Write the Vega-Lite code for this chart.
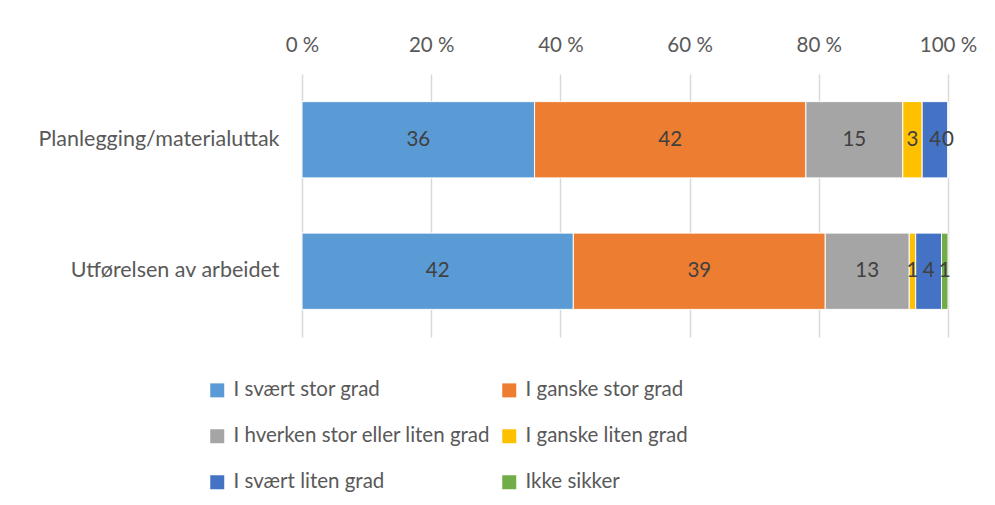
{
  "$schema": "https://vega.github.io/schema/vega-lite/v6.json",
  "width": 646,
  "height": 263,
  "autosize": {"type": "none"},
  "padding": {"left": 302, "top": 74, "right": 47, "bottom": 168},
  "background": "white",
  "config": {
    "view": {"stroke": null},
    "font": "Lato",
    "text": {"font": "Lato"}
  },
  "data": {
    "values": [
      {"cat": "Planlegging/materialuttak", "resp": "I svært stor grad", "o": 0, "v": 36},
      {"cat": "Planlegging/materialuttak", "resp": "I ganske stor grad", "o": 1, "v": 42},
      {"cat": "Planlegging/materialuttak", "resp": "I hverken stor eller liten grad", "o": 2, "v": 15},
      {"cat": "Planlegging/materialuttak", "resp": "I ganske liten grad", "o": 3, "v": 3},
      {"cat": "Planlegging/materialuttak", "resp": "I svært liten grad", "o": 4, "v": 4},
      {"cat": "Planlegging/materialuttak", "resp": "Ikke sikker", "o": 5, "v": 0},
      {"cat": "Utførelsen av arbeidet", "resp": "I svært stor grad", "o": 0, "v": 42},
      {"cat": "Utførelsen av arbeidet", "resp": "I ganske stor grad", "o": 1, "v": 39},
      {"cat": "Utførelsen av arbeidet", "resp": "I hverken stor eller liten grad", "o": 2, "v": 13},
      {"cat": "Utførelsen av arbeidet", "resp": "I ganske liten grad", "o": 3, "v": 1},
      {"cat": "Utførelsen av arbeidet", "resp": "I svært liten grad", "o": 4, "v": 4},
      {"cat": "Utførelsen av arbeidet", "resp": "Ikke sikker", "o": 5, "v": 1}
    ]
  },
  "encoding": {
    "y": {
      "field": "cat",
      "type": "nominal",
      "sort": ["Planlegging/materialuttak", "Utførelsen av arbeidet"],
      "scale": {"paddingInner": 0.42, "paddingOuter": 0.21},
      "axis": {
        "title": null,
        "domain": false,
        "ticks": false,
        "labelPadding": 23,
        "labelFontSize": 21.5,
        "labelColor": "#595959",
        "labelFont": "Lato",
        "labelLimit": 400
      }
    },
    "x": {
      "field": "v",
      "type": "quantitative",
      "stack": "normalize",
      "scale": {"domain": [0, 1]},
      "axis": {
        "orient": "top",
        "title": null,
        "labelExpr": "format(datum.value*100, 'd') + ' %'",
        "values": [0, 0.2, 0.4, 0.6, 0.8, 1],
        "domain": false,
        "ticks": false,
        "labelFlush": false,
        "labelPadding": 19,
        "labelFontSize": 20.5,
        "labelColor": "#595959",
        "labelFont": "Lato",
        "grid": true,
        "gridColor": "#D9D9D9",
        "gridWidth": 1.5
      }
    },
    "order": {"field": "o", "type": "quantitative"}
  },
  "layer": [
    {
      "mark": {"type": "bar", "stroke": "white", "strokeWidth": 1},
      "encoding": {
        "color": {
          "field": "resp",
          "type": "nominal",
          "sort": ["I svært stor grad", "I ganske stor grad", "I hverken stor eller liten grad", "I ganske liten grad", "I svært liten grad", "Ikke sikker"],
          "scale": {
            "domain": ["I svært stor grad", "I ganske stor grad", "I hverken stor eller liten grad", "I ganske liten grad", "I svært liten grad", "Ikke sikker"],
            "range": ["#5B9BD5", "#ED7D31", "#A5A5A5", "#FFC000", "#4472C4", "#70AD47"]
          },
          "legend": {
            "orient": "none",
            "direction": "horizontal",
            "legendX": -95,
            "legendY": 306,
            "columns": 2,
            "title": null,
            "symbolType": "square",
            "symbolSize": 196,
            "symbolStrokeWidth": 0,
            "labelFontSize": 20.5,
            "labelColor": "#595959",
            "labelFont": "Lato",
            "labelLimit": 400,
            "labelOffset": 6,
            "rowPadding": 25,
            "columnPadding": 8
          }
        }
      }
    },
    {
      "mark": {"type": "text", "fontSize": 20.5, "color": "#404040", "font": "Lato"},
      "encoding": {
        "x": {"field": "v", "type": "quantitative", "stack": "normalize", "bandPosition": 0.5},
        "text": {"field": "v", "type": "quantitative"}
      }
    }
  ]
}
